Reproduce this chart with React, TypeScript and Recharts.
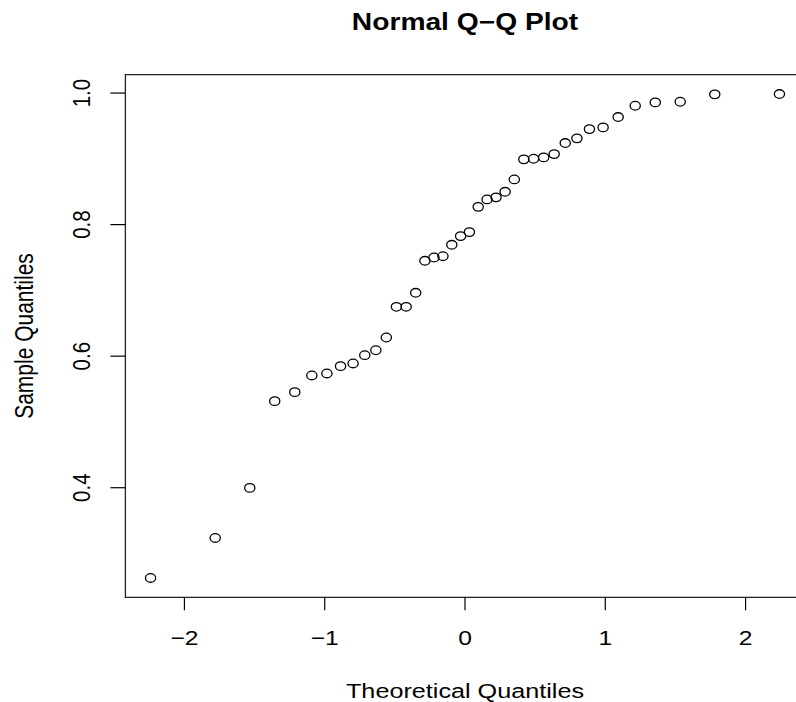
import { ReferenceArea, Scatter, ScatterChart, XAxis, YAxis } from 'recharts';

// theoretical normal quantiles (n = 40) and the sorted sample values
const theoretical = [
  -2.2414, -1.7805, -1.5341, -1.3563, -1.2133, -1.0918, -0.9845, -0.8871, -0.7978, -0.7145,
  -0.6356, -0.5607, -0.4888, -0.4193, -0.3516, -0.2858, -0.2211, -0.1573, -0.0941, -0.0313,
  0.0313, 0.0941, 0.1573, 0.2211, 0.2858, 0.3516, 0.4193, 0.4888, 0.5607, 0.6356,
  0.7145, 0.7978, 0.8871, 0.9845, 1.0918, 1.2133, 1.3563, 1.5341, 1.7805, 2.2414,
];

const sample = [
  0.2628, 0.3236, 0.3997, 0.5316, 0.5453, 0.5707, 0.5737, 0.5848, 0.5889, 0.6015,
  0.609, 0.6284, 0.675, 0.675, 0.6963, 0.745, 0.75, 0.752, 0.7693, 0.7825,
  0.7886, 0.827, 0.8383, 0.8414, 0.8499, 0.8687, 0.8992, 0.9001, 0.9022, 0.9072,
  0.924, 0.9311, 0.9452, 0.9478, 0.9635, 0.9807, 0.9858, 0.9868, 0.998, 0.9985,
];

const xTicks = [-2, -1, 0, 1, 2];
const yTicks = [0.4, 0.6, 0.8, 1.0];

const X_DOMAIN: [number, number] = [-2.4207, 2.4207];
const Y_DOMAIN: [number, number] = [0.2334, 1.0279];

const FONT = '"Liberation Sans", Arial, Helvetica, sans-serif';
// the reference is stretched horizontally, so text and markers are too
const STRETCH = 1.2;

const points = theoretical.map((x, i) => ({ x, y: sample[i] }));

function fmtX(v: number) {
  return v < 0 ? `\u2212${Math.abs(v)}` : String(v);
}

function XTick({ x, y, payload }: any) {
  return (
    <text
      transform={`translate(${x},${y + 35}) scale(${STRETCH},1)`}
      textAnchor="middle"
      fontFamily={FONT}
      fontSize={20.5}
      fill="#000"
    >
      {fmtX(payload.value)}
    </text>
  );
}

function YTick({ x, y, payload }: any) {
  return (
    <text
      transform={`translate(${x - 20.4},${y}) scale(${STRETCH},1) rotate(-90)`}
      textAnchor="middle"
      fontFamily={FONT}
      fontSize={20.5}
      fill="#000"
    >
      {payload.value.toFixed(1)}
    </text>
  );
}

function OpenCircle({ cx, cy }: any) {
  return <ellipse cx={cx} cy={cy} rx={5.1} ry={4.3} fill="none" stroke="#000" strokeWidth={1.3} />;
}

export default function App() {
  return (
    <div
      style={{
        position: 'absolute',
        left: 0,
        top: 0,
        width: 796,
        height: 702,
        overflow: 'hidden',
        background: '#fff',
      }}
    >
      <ScatterChart
        width={830}
        height={702}
        margin={{ top: 74.7, right: 25.4, bottom: 44.7, left: 65.4 }}
        style={{ fontFamily: FONT }}
      >
        <XAxis
          dataKey="x"
          type="number"
          domain={X_DOMAIN}
          ticks={xTicks}
          interval={0}
          allowDataOverflow
          axisLine={false}
          tickLine={{ stroke: '#000', strokeWidth: 1.2 }}
          tickSize={13}
          tickMargin={0}
          height={60}
          tick={<XTick />}
        />
        <YAxis
          dataKey="y"
          type="number"
          domain={Y_DOMAIN}
          ticks={yTicks}
          interval={0}
          allowDataOverflow
          axisLine={false}
          tickLine={{ stroke: '#000', strokeWidth: 1.2 }}
          tickSize={15}
          tickMargin={0}
          width={60}
          tick={<YTick />}
        />
        <ReferenceArea
          x1={X_DOMAIN[0]}
          x2={X_DOMAIN[1]}
          y1={Y_DOMAIN[0]}
          y2={Y_DOMAIN[1]}
          fill="none"
          stroke="#222"
          strokeWidth={1.3}
          ifOverflow="visible"
        />
        <Scatter data={points} shape={<OpenCircle />} isAnimationActive={false} />
      </ScatterChart>
      <svg
        width={796}
        height={702}
        style={{ position: 'absolute', left: 0, top: 0, pointerEvents: 'none' }}
      >
        <text
          transform={`translate(465,30) scale(${STRETCH},1)`}
          textAnchor="middle"
          fontFamily={FONT}
          fontWeight="bold"
          fontSize={23.5}
          fill="#000"
        >
          Normal Q{'\u2212'}Q Plot
        </text>
        <text
          transform={`translate(465,698) scale(${STRETCH},1)`}
          textAnchor="middle"
          fontFamily={FONT}
          fontSize={21}
          fill="#000"
        >
          Theoretical Quantiles
        </text>
        <text
          transform={`translate(33.3,336) scale(${STRETCH},1) rotate(-90)`}
          textAnchor="middle"
          fontFamily={FONT}
          fontSize={21}
          fill="#000"
        >
          Sample Quantiles
        </text>
      </svg>
    </div>
  );
}
